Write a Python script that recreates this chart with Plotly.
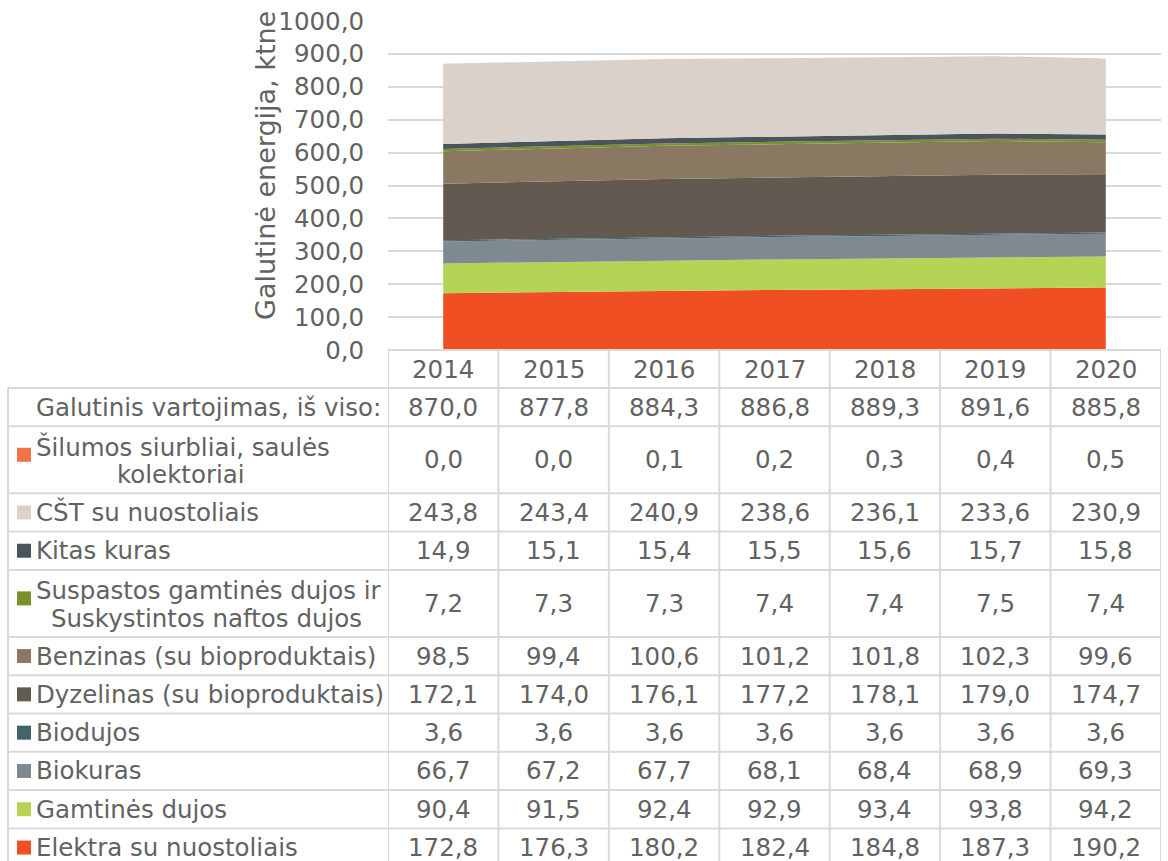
import plotly.graph_objects as go

# ---- data (ktne) ----
years = [2014, 2015, 2016, 2017, 2018, 2019, 2020]

total = [870.0, 877.8, 884.3, 886.8, 889.3, 891.6, 885.8]
silumos = [0.0, 0.0, 0.1, 0.2, 0.3, 0.4, 0.5]
cst = [243.8, 243.4, 240.9, 238.6, 236.1, 233.6, 230.9]
kitas = [14.9, 15.1, 15.4, 15.5, 15.6, 15.7, 15.8]
suspastos = [7.2, 7.3, 7.3, 7.4, 7.4, 7.5, 7.4]
benzinas = [98.5, 99.4, 100.6, 101.2, 101.8, 102.3, 99.6]
dyzelinas = [172.1, 174.0, 176.1, 177.2, 178.1, 179.0, 174.7]
biodujos = [3.6, 3.6, 3.6, 3.6, 3.6, 3.6, 3.6]
biokuras = [66.7, 67.2, 67.7, 68.1, 68.4, 68.9, 69.3]
gamtines = [90.4, 91.5, 92.4, 92.9, 93.4, 93.8, 94.2]
elektra = [172.8, 176.3, 180.2, 182.4, 184.8, 187.3, 190.2]

total_label = "Galutinis vartojimas, iš viso:"

# table rows, top to bottom: (label lines, values, colour)
series = [
    (["Šilumos siurbliai, saulės", "kolektoriai"], silumos, "#F3714A"),
    (["CŠT su nuostoliais"], cst, "#D9D1CA"),
    (["Kitas kuras"], kitas, "#4B535C"),
    (["Suspastos gamtinės dujos ir", "Suskystintos naftos dujos"], suspastos, "#77922A"),
    (["Benzinas (su bioproduktais)"], benzinas, "#8A7863"),
    (["Dyzelinas (su bioproduktais)"], dyzelinas, "#625950"),
    (["Biodujos"], biodujos, "#43636B"),
    (["Biokuras"], biokuras, "#7F8991"),
    (["Gamtinės dujos"], gamtines, "#B5D455"),
    (["Elektra su nuostoliais"], elektra, "#EF4F23"),
]

# ---- page geometry (pixels) ----
W, H = 1168, 861
PLOT_L, PLOT_R = 388, 1161
PLOT_T, PLOT_B = 21, 350
TABLE_L = 8
LABEL_X = 34
HEADER_B = 388
ROW_1 = 38.3
ROW_2 = 67.0
TEXT = "#626262"
GRID = "#D9D9D9"
FONT = "DejaVu Sans"
FS = 24.5
# horizontal centre of the wrapped second label line
WRAP_CENTRE = {"kolektoriai": 181, "Suskystintos naftos dujos": 206}


def px(x):
    return x / W


def py(y):
    return 1 - y / H


def fmt(v):
    return f"{v:.1f}".replace(".", ",")


fig = go.Figure()

# stacked areas, bottom layer first
for lines, vals, col in reversed(series):
    fig.add_trace(go.Scatter(
        x=years, y=vals, name=" ".join(lines), mode="lines",
        stackgroup="one", line=dict(width=0, color=col),
        fillcolor=col, hoverinfo="skip", showlegend=False,
    ))

shapes = []
annotations = []
tfont = dict(family=FONT, size=FS, color=TEXT)

# header row with years
for yr in years:
    annotations.append(dict(
        x=yr, xref="x", y=py((PLOT_B + HEADER_B) / 2), yref="paper",
        text=str(yr), showarrow=False, xanchor="center", yanchor="middle",
        font=tfont,
    ))

# body rows
rows = [([total_label], total, None)] + series
y0 = HEADER_B
row_edges = [y0]
for lines, vals, col in rows:
    h = ROW_2 if len(lines) > 1 else ROW_1
    yc = y0 + h / 2
    if len(lines) == 1:
        annotations.append(dict(
            x=px(LABEL_X), xref="paper", y=py(yc), yref="paper", text=lines[0],
            showarrow=False, xanchor="left", yanchor="middle", font=tfont,
        ))
        sw_c = yc
    else:
        first_c = y0 + 21
        annotations.append(dict(
            x=px(LABEL_X), xref="paper", y=py(first_c), yref="paper", text=lines[0],
            showarrow=False, xanchor="left", yanchor="middle", font=tfont,
        ))
        annotations.append(dict(
            x=px(WRAP_CENTRE[lines[1]]), xref="paper", y=py(first_c + 27.5), yref="paper",
            text=lines[1], showarrow=False, xanchor="center", yanchor="middle",
            font=tfont,
        ))
        sw_c = y0 + 28.5
    if col is not None:
        shapes.append(dict(
            type="rect", xref="paper", yref="paper",
            x0=px(17), x1=px(31), y0=py(sw_c - 7), y1=py(sw_c + 7),
            fillcolor=col, line=dict(width=0),
        ))
    for yr, v in zip(years, vals):
        annotations.append(dict(
            x=yr, xref="x", y=py(yc), yref="paper", text=fmt(v),
            showarrow=False, xanchor="center", yanchor="middle", font=tfont,
        ))
    y0 += h
    row_edges.append(y0)

# table grid lines
line = dict(color=GRID, width=2)
shapes.append(dict(type="line", xref="paper", yref="paper",
                   x0=px(PLOT_L), x1=px(PLOT_R), y0=py(PLOT_B), y1=py(PLOT_B), line=line))
for ye in row_edges:
    shapes.append(dict(type="line", xref="paper", yref="paper",
                       x0=px(TABLE_L), x1=px(PLOT_R), y0=py(ye), y1=py(ye), line=line))
shapes.append(dict(type="line", xref="paper", yref="paper",
                   x0=px(TABLE_L), x1=px(TABLE_L), y0=py(HEADER_B), y1=py(row_edges[-1]), line=line))
for k in range(len(years) + 1):
    xb = years[0] - 0.5 + k
    shapes.append(dict(type="line", xref="x", yref="paper",
                       x0=xb, x1=xb, y0=py(PLOT_B), y1=py(row_edges[-1]), line=line))

# y axis title
annotations.append(dict(
    x=px(266), xref="paper", y=py(166), yref="paper",
    text="Galutinė energija, ktne", textangle=-90, showarrow=False,
    xanchor="center", yanchor="middle",
    font=dict(family=FONT, size=27, color=TEXT),
))

fig.update_layout(
    width=W, height=H, autosize=False,
    margin=dict(l=0, r=0, t=0, b=0, autoexpand=False),
    paper_bgcolor="white", plot_bgcolor="white",
    separators=",.",
    shapes=shapes, annotations=annotations,
    xaxis=dict(
        domain=[px(PLOT_L), px(PLOT_R)], range=[years[0] - 0.5, years[-1] + 0.5],
        showticklabels=False, showgrid=False, zeroline=False, showline=False,
        fixedrange=True, automargin=False,
    ),
    yaxis=dict(
        domain=[py(PLOT_B), py(PLOT_T)], range=[0, 1000],
        tickvals=list(range(0, 1001, 100)), tickformat=".1f",
        showgrid=True, gridcolor=GRID, gridwidth=2,
        zeroline=False, showline=False,
        ticks="outside", ticklen=18, tickcolor="rgba(0,0,0,0)",
        tickfont=tfont,
        fixedrange=True, automargin=False,
    ),
)

fig.write_html("out.html")
